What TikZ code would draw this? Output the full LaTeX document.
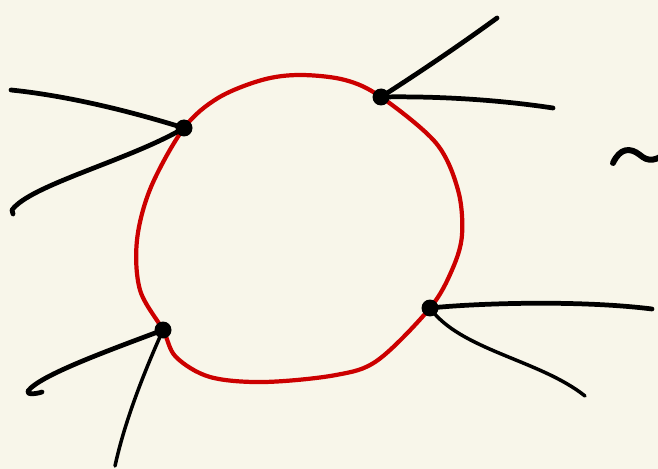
\documentclass[tikz,border=0pt]{standalone}
\usetikzlibrary{calc}

\definecolor{paper}{HTML}{F8F6EA}
\definecolor{loopred}{HTML}{CC0000}

\tikzset{
  vertex/.style={circle, fill=black, inner sep=0pt, minimum size=0.34cm},
  leg/.style={line width=2.7pt, line cap=round, line join=round},
  loopline/.style={draw=loopred, line width=2.4pt, line join=round}
}

\begin{document}
\begin{tikzpicture}[x=0.02cm, y=-0.02cm]
    % Hintergrund
    \fill[paper] (0,0) rectangle (658,469);
    \useasboundingbox (0,0) rectangle (658,469);

    % Vertizes
    \coordinate (vA) at (184,128);
    \coordinate (vB) at (381,97);
    \coordinate (vC) at (430,308);
    \coordinate (vD) at (163,330);

    % Enden der Beine
    \coordinate (a1) at (11,90);
    \coordinate (a2) at (12,210);
    \coordinate (b1) at (497,18);
    \coordinate (b2) at (553,108);
    \coordinate (c1) at (652,309);
    \coordinate (c2) at (585,396);
    \coordinate (d1) at (28,391);
    \coordinate (d2) at (115,466);

    % Schleife
    \draw[loopline] plot[smooth cycle, tension=0.55] coordinates {
      (vA) (218,98) (262,80) (300,75) (345,80) (vB)
      (436,143) (458,190) (462,235) (452,270) (vC)
      (378,360) (336,375) (264,382) (210,377) (176,357) (vD)
      (140,290) (137,240) (151,187)
    };

    % Beine
    \draw[leg] (vA) .. controls (120,108) and (60,95) .. (a1);
    \draw[leg] (vA) .. controls (130,160) and (30,185) .. (a2) -- ++(1,4);
    \draw[leg] (vB) .. controls (420,72) and (460,45) .. (b1);
    \draw[leg] (vB) .. controls (440,96) and (500,100) .. (b2);
    \draw[leg] (vC) .. controls (480,303) and (580,300) .. (c1);
    \draw[leg, line width=2pt] (vC) .. controls (460,350) and (540,360) .. (c2);
    \draw[leg] (vD) .. controls (110,350) and (40,375) .. (d1) .. controls (26,395) and (36,394) .. (42,392);
    \draw[leg, line width=2pt] (vD) .. controls (145,370) and (125,420) .. (d2);

    % Punkte
    \foreach \v in {vA,vB,vC,vD}
      \node[vertex] at (\v) {};

    % Tilde am Rand
    \draw[leg, line width=3.4pt] (613,163) .. controls (620,148) and (630,147) .. (640,155)
      .. controls (648,162) and (656,162) .. (670,150);
\end{tikzpicture}
\end{document}
